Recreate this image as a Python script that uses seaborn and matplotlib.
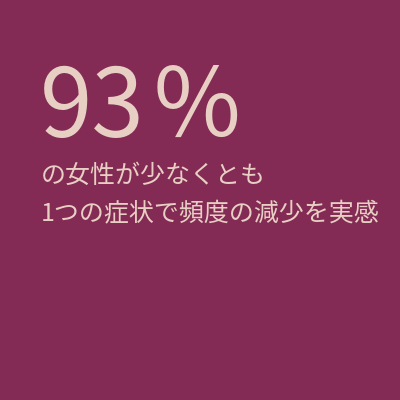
import seaborn as sns
import matplotlib.pyplot as plt

# data
percent = 93
percent_sign = '％'
caption_lines = ['の女性が少なくとも', '1つの症状で頻度の減少を実感']

bg = '#832b55'
fg = '#e8cfc3'

sns.set_theme(style='white')
plt.rcParams['font.family'] = ['Noto Sans CJK JP', 'DejaVu Sans']

fig = plt.figure(figsize=(4, 4), dpi=100, facecolor=bg)
ax = fig.add_axes([0, 0, 1, 1])
ax.set_facecolor(bg)
ax.axis('off')

# big number, positions in pixels from top-left
fig.text(40 / 400, 1 - 137 / 400, f'{percent}', color=fg,
         fontsize=68, ha='left', va='baseline')
# sign set a bit apart, as in the original
fig.text(150 / 400, 1 - 137 / 400, percent_sign, color=fg,
         fontsize=68, ha='left', va='baseline')

baselines = [183, 221]
for line, y in zip(caption_lines, baselines):
    fig.text(41 / 400, 1 - y / 400, line, color=fg, fontsize=18,
             ha='left', va='baseline')

fig.savefig('out.png', dpi=100, facecolor=bg)
